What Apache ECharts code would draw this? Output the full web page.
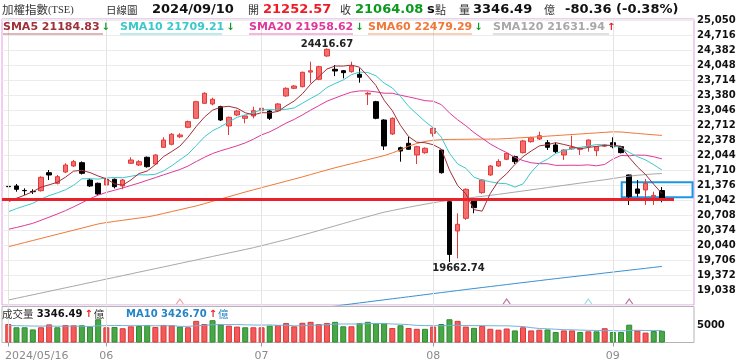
<!DOCTYPE html>
<html><head><meta charset="utf-8">
<script src="https://cdn.jsdelivr.net/npm/echarts@6/dist/echarts.min.js"></script>
<style>html,body{margin:0;padding:0;background:#fff}#c{width:740px;height:363px}</style>
</head><body><div id="c"></div>
<script>
// ---------- data ----------
const tickIdx = [0, 12, 31, 52, 74];
const tickLabels = ['2024/05/16', '06', '07', '08', '09'];
const lastDate = '2024/09/10';

const opens = [21345, 21354, 21255, 21232, 21249, 21650, 21414, 21665, 21799, 21873,
 21487, 21414, 21376, 21503, 21354, 21859, 21821, 21993, 21844, 22215,
 22282, 22450, 22661, 22861, 23195, 23180, 23120, 22690, 22935, 22861,
 22912, 23030, 23024, 23030, 23358, 23529, 23565, 23890, 23730, 24248,
 23952, 23921, 23899, 23841, 23400, 23231, 22823, 22512, 22206, 22304,
 22044, 22095, 22527, 22155, 21004, 20352, 20634, 21042, 21205, 21599,
 21800, 21948, 22007, 22096, 22340, 22400, 22319, 22267, 22044, 22180,
 22170, 22229, 22140, 22240, 22319, 22229, 21599, 21287, 21265, 21110,
 21252.57];
const closes = [21338, 21280, 21249, 21227, 21547, 21599, 21561, 21821, 21895, 21636,
 21354, 21176, 21503, 21338, 21487, 21933, 21895, 21784, 22044, 22378,
 22505, 22490, 22787, 23231, 23418, 23284, 22823, 22883, 23024, 22913,
 23030, 23084, 22861, 23180, 23529, 23580, 23885, 23920, 24010, 24397,
 23914, 23877, 24025, 23774, 23418, 22861, 22244, 22861, 22133, 22171,
 22229, 22193, 22638, 21650, 19830, 20501, 21280, 20871, 21487, 21799,
 21900, 22081, 21895, 22356, 22430, 22474, 22215, 22118, 22155, 22215,
 22200, 22378, 22229, 22268, 22229, 22096, 21116, 21191, 21414, 21144.44,
 21064.08];
const lows = [21265, 21227, 21153, 21176, 21230, 21487, 21390, 21640, 21780, 21610,
 21330, 21150, 21360, 21300, 21280, 21844, 21800, 21760, 21830, 22200,
 22260, 22420, 22640, 22850, 23180, 23150, 22800, 22489, 22910, 22750,
 22861, 23010, 22823, 23010, 23340, 23510, 23550, 23640, 23710, 24230,
 23800, 23750, 23877, 23654, 23157, 22840, 22155, 22490, 21895, 22155,
 21844, 22070, 22452, 21630, 19662.74, 19744, 20600, 20746, 21180, 21580,
 21780, 21930, 21844, 22080, 22320, 22380, 22155, 22081, 21933, 22160,
 22044, 22118, 22020, 22220, 22193, 22080, 20931, 21116, 20931, 20931,
 20990];
const highs = [21503, 21398, 21302, 21280, 21570, 21710, 21600, 21860, 21933, 21900,
 21520, 21430, 21540, 21520, 21510, 21993, 21930, 22010, 22060, 22438,
 22530, 22530, 22810, 23250, 23440, 23320, 23140, 22900, 23050, 22935,
 23120, 23180, 23040, 23200, 23550, 23600, 23900, 24121, 24030, 24416.67,
 24048, 23937, 24121, 23975, 23453, 23250, 22840, 22880, 22230, 22452,
 22250, 22215, 22660, 22170, 21020, 20746, 21300, 21060, 21500, 21820,
 21950, 22100, 22030, 22380, 22450, 22563, 22378, 22319, 22170, 22474,
 22215, 22390, 22245, 22290, 22438, 22240, 21610, 21487, 21509, 21227,
 21330];
const volumes = [5280, 4350, 4350, 3730, 4350, 5170, 4350, 5010, 4920, 4920,
 4550, 6640, 4350, 4440, 4080, 4620, 4710, 5010, 4440, 5010,
 4920, 4540, 4350, 6180, 5280, 6370, 5190, 4820, 4540, 4350,
 4350, 4350, 4820, 4990, 5550, 4630, 5640, 5910, 5280, 5550,
 5910, 4630, 4630, 5550, 5910, 5550, 5550, 4150, 4920, 4150,
 3910, 3910, 4550, 5280, 6640, 6180, 4550, 4190, 4730, 3920,
 3650, 4000, 3450, 4350, 3450, 3650, 3730, 2990, 3450, 3450,
 2990, 3190, 3190, 4080, 2990, 2990, 5090, 3450, 2830, 3260,
 3346.49];
const sma5 = [21004, 21080, 21150, 21227, 21328, 21380, 21437, 21551, 21685, 21702,
 21653, 21576, 21513, 21401, 21372, 21487, 21631, 21687, 21829, 22007,
 22121, 22240, 22441, 22678, 22886, 23042, 23109, 23128, 23086, 22985,
 22935, 22987, 22982, 23014, 23137, 23247, 23407, 23619, 23785, 23958,
 24025, 24024, 24045, 23997, 23802, 23591, 23264, 23032, 22703, 22454,
 22328, 22317, 22273, 22176, 21708, 21362, 21180, 20826, 20794, 21188,
 21467, 21628, 21832, 22006, 22132, 22247, 22274, 22319, 22278, 22235,
 22181, 22213, 22235, 22258, 22261, 22240, 21988, 21780, 21609, 21392,
 21184.83];
const sma10 = [20781, 20850, 20910, 20969, 21060, 21140, 21200, 21270, 21370, 21515,
 21517, 21507, 21532, 21543, 21537, 21570, 21604, 21600, 21615, 21689,
 21804, 21936, 22064, 22253, 22447, 22582, 22674, 22784, 22882, 22936,
 22988, 23048, 23055, 23050, 23061, 23091, 23197, 23301, 23399, 23548,
 23636, 23715, 23832, 23891, 23880, 23808, 23644, 23538, 23350, 23128,
 22959, 22791, 22652, 22440, 22081, 21845, 21749, 21550, 21485, 21448,
 21415, 21404, 21329, 21400, 21660, 21857, 21951, 22076, 22142, 22184,
 22214, 22244, 22277, 22268, 22248, 22210, 22100, 22008, 21934, 21827,
 21709.21];
const sma20 = [20389, 20430, 20475, 20523, 20590, 20660, 20730, 20805, 20890, 20980,
 21070, 21150, 21210, 21260, 21310, 21365, 21420, 21480, 21540, 21602,
 21661, 21721, 21798, 21898, 21992, 22076, 22139, 22192, 22249, 22313,
 22396, 22492, 22560, 22652, 22754, 22836, 22936, 23042, 23141, 23242,
 23312, 23382, 23443, 23471, 23471, 23449, 23420, 23419, 23375, 23338,
 23298, 23253, 23242, 23165, 22981, 22827, 22696, 22544, 22418, 22288,
 22187, 22097, 21991, 21920, 21871, 21851, 21850, 21813, 21814, 21816,
 21814, 21824, 21803, 21834, 21954, 22034, 22026, 22042, 22038, 22005,
 21958.62];
const sma60 = [20002, 20048, 20094, 20140, 20186, 20232, 20278, 20324, 20370, 20416,
 20462, 20508, 20540, 20565, 20590, 20615, 20640, 20665, 20700, 20742,
 20784, 20826, 20868, 20910, 20960, 21012, 21064, 21116, 21168, 21220,
 21268, 21316, 21364, 21412, 21460, 21508, 21556, 21608, 21660, 21710,
 21760, 21805, 21850, 21895, 21940, 21985, 22030, 22090, 22160, 22240,
 22300, 22345, 22372, 22385, 22390, 22392, 22394, 22396, 22397, 22398,
 22400, 22410, 22420, 22430, 22440, 22452, 22464, 22476, 22488, 22500,
 22512, 22524, 22536, 22548, 22560, 22556, 22540, 22524, 22508, 22494,
 22479.29];
const sma120 = [18815, 18854, 18893, 18931, 18970, 19009, 19048, 19087, 19125, 19164,
 19203, 19242, 19281, 19319, 19358, 19397, 19436, 19475, 19513, 19552,
 19591, 19630, 19669, 19707, 19746, 19785, 19824, 19863, 19901, 19940,
 19980, 20025, 20070, 20115, 20160, 20210, 20260, 20310, 20362, 20414,
 20466, 20518, 20570, 20622, 20672, 20722, 20770, 20808, 20845, 20880,
 20915, 20948, 20980, 21010, 21035, 21058, 21080, 21102, 21124, 21146,
 21168, 21193, 21218, 21243, 21268, 21293, 21318, 21343, 21368, 21393,
 21418, 21443, 21468, 21493, 21520, 21548, 21572, 21592, 21608, 21622,
 21631.94];
const sma240 = [null, null, null, null, null, null, null, null, null, null,
 null, null, null, null, null, null, null, null, null, null,
 null, null, null, null, null, null, null, null, null, null,
 null, null, null, null, null, 18560, 18584, 18608, 18632, 18656,
 18680, 18704, 18727, 18750, 18773, 18796, 18819, 18842, 18865, 18888,
 18911, 18934, 18957, 18980, 19003, 19026, 19049, 19071, 19093, 19115,
 19137, 19159, 19181, 19203, 19225, 19247, 19269, 19290, 19311, 19332,
 19353, 19374, 19395, 19416, 19437, 19458, 19479, 19500, 19521, 19542,
 19563];
const volMa10 = [4850, 4800, 4760, 4700, 4680, 4700, 4650, 4680, 4700, 4643,
 4570, 4799, 4799, 4870, 4843, 4788, 4824, 4824, 4776, 4785,
 4822, 4612, 4612, 4786, 4906, 5081, 5129, 5110, 5120, 5054,
 4997, 4978, 5025, 4906, 4933, 4759, 4804, 4913, 4987, 5107,
 5263, 5291, 5272, 5328, 5364, 5456, 5447, 5271, 5235, 5095,
 4895, 4823, 4815, 4788, 4861, 4924, 4824, 4828, 4809, 4786,
 4760, 4769, 4659, 4566, 4247, 3994, 3912, 3792, 3664, 3617,
 3551, 3470, 3444, 3417, 3371, 3305, 3441, 3487, 3425, 3406,
 3426.70];
// cross signals (day index) and their colours
const signalIdx = [21, 61, 71, 76];
const signalColors = ['#f08a8a', '#a8508a', '#7fd6e0', '#a8508a'];
// highlight box (price range) and its day span
const boxDays = [75.08, 83.75];
const boxRange = [21102, 21436];
const lastLineEnd = 81.48;

// ---------- layout / style ----------
const X_MIN = -0.771, X_MAX = 83.93;
const Y_MIN = 18704, Y_MAX = 25072, Y_STEP = 334;
const FB = '"DejaVu Sans"';
const CJK = '"Noto Sans CJK TC"';
const RED = '#ee1c25', GREEN = '#0a9a1e';
const C5 = '#a0303a', C10 = '#3cc8cc', C20 = '#e0389c', C60 = '#f07838', C120 = '#a8a8a8';

const N = closes.length;
const pair = arr => arr.map((v, i) => [i, v]);
const candleData = closes.map((c, i) => [i, opens[i], c, lows[i], highs[i]]);
const volData = volumes.map((v, i) => {
  const up = i === 0 ? true : closes[i] >= closes[i - 1];
  return { value: [i, v], itemStyle: { color: up ? '#f55a5a' : '#48a848', borderColor: up ? '#d83838' : '#2e8a2e', borderWidth: 1 } };
});
const hiIdx = highs.indexOf(Math.max(...highs));
const loIdx = lows.indexOf(Math.min(...lows));
const last = N - 1;
const lastClose = closes[last];
const chg = closes[last] - closes[last - 1];
const chgPct = chg / closes[last - 1] * 100;

const monthLine = {
  silent: true, symbol: ['none', 'none'], label: { show: false },
  lineStyle: { color: '#e4e4e4', width: 1, type: 'solid' },
  data: tickIdx.map(i => ({ xAxis: i }))
};

function t(x, y, text, fill, font) {
  return { type: 'text', x, y, silent: true, style: { text, fill, font, verticalAlign: 'middle' } };
}
const graphics = [];
// title row
const TY = 10;
graphics.push(t(2, TY, '加權指數', '#333', `11.5px ${CJK}`));
graphics.push(t(48, TY, '(TSE)', '#333', '10.5px "Liberation Serif"'));
graphics.push(t(106, TY, '日線圖', '#333', `10.5px ${CJK}`));
graphics.push(t(152, TY, lastDate, '#111', `bold 13px ${FB}`));
graphics.push(t(248, TY, '開', '#333', `11px ${CJK}`));
graphics.push(t(263, TY, opens[last].toFixed(2), RED, `bold 13px ${FB}`));
graphics.push(t(340, TY, '收', '#333', `11px ${CJK}`));
graphics.push(t(355, TY, closes[last].toFixed(2), GREEN, `bold 13px ${FB}`));
graphics.push(t(427, TY, 's', '#111', `bold 13px ${FB}`));
graphics.push(t(435, TY, '點', '#333', `11px ${CJK}`));
graphics.push(t(459, TY, '量', '#333', `11px ${CJK}`));
graphics.push(t(473, TY, volumes[last].toFixed(2), '#111', `bold 13px ${FB}`));
graphics.push(t(544, TY, '億', '#333', `11px ${CJK}`));
graphics.push(t(565, TY, `${chg.toFixed(2)} (${chgPct.toFixed(2)}%)`, '#111', `bold 13px ${FB}`));

// SMA legend row
const legendItems = [
  { name: 'SMA5', arr: sma5, color: C5, x: 3, w: 100 },
  { name: 'SMA10', arr: sma10, color: C10, x: 120, w: 102 },
  { name: 'SMA20', arr: sma20, color: C20, x: 249, w: 104 },
  { name: 'SMA60', arr: sma60, color: C60, x: 368, w: 104 },
  { name: 'SMA120', arr: sma120, color: C120, x: 493, w: 116 }
];
legendItems.forEach(it => {
  const v = it.arr[last], p = it.arr[last - 1];
  const up = v >= p;
  graphics.push({
    type: 'text', x: it.x, y: 27, silent: true, z: 10,
    style: {
      text: `{n|${it.name} ${v.toFixed(2)}}{a|${up ? '↑' : '↓'}}`,
      verticalAlign: 'middle',
      rich: {
        n: { fill: it.color, font: `bold 11px ${FB}` },
        a: { fill: up ? RED : GREEN, font: `bold 10px ${FB}`, padding: [0, 0, 0, 2] }
      }
    }
  });
  graphics.push({ type: 'line', silent: true, z: 10, shape: { x1: it.x, y1: 34, x2: it.x + it.w, y2: 34 }, style: { stroke: it.color, lineWidth: 1, opacity: 0.7 } });
});

// volume legend row
const vUp = volumes[last] >= volumes[last - 1];
const mUp = volMa10[last] >= volMa10[last - 1];
graphics.push({
  type: 'text', x: 2, y: 314, silent: true, z: 10,
  style: {
    text: `{c|成交量} {v|${volumes[last].toFixed(2)}}{a|${vUp ? '↑' : '↓'}}{c|億}`,
    verticalAlign: 'middle',
    rich: {
      c: { fill: '#333', font: `10.5px ${CJK}` },
      v: { fill: '#111', font: `bold 10px ${FB}` },
      a: { fill: vUp ? RED : GREEN, font: `bold 10px ${FB}`, padding: [0, 1, 0, 2] }
    }
  }
});
graphics.push({
  type: 'text', x: 126, y: 314, silent: true, z: 10,
  style: {
    text: `{m|MA10 ${volMa10[last].toFixed(2)}}{a|${mUp ? '↑' : '↓'}}{c|億}`,
    verticalAlign: 'middle',
    rich: {
      m: { fill: '#2484c6', font: `bold 10px ${FB}` },
      a: { fill: mUp ? RED : GREEN, font: `bold 10px ${FB}`, padding: [0, 1, 0, 2] },
      c: { fill: '#2484c6', font: `10.5px ${CJK}` }
    }
  }
});

const lineS = (name, arr, color, extra) => Object.assign({
  name, type: 'line', xAxisIndex: 0, yAxisIndex: 0, data: pair(arr), showSymbol: false,
  symbol: 'none', silent: true, z: 4, lineStyle: { color, width: 1 }, connectNulls: false
}, extra || {});

const option = {
  animation: false,
  backgroundColor: '#fff',
  textStyle: { fontFamily: 'DejaVu Sans' },
  grid: [
    { left: 2, top: 19, width: 692, height: 286, show: true, borderColor: '#e39be3', borderWidth: 1, backgroundColor: 'transparent' },
    { left: 2, top: 306.5, width: 692, height: 36, show: true, borderColor: '#b4b4b4', borderWidth: 1, backgroundColor: 'transparent' }
  ],
  xAxis: [
    { type: 'value', gridIndex: 0, min: X_MIN, max: X_MAX, axisLine: { show: false }, axisTick: { show: false }, axisLabel: { show: false }, splitLine: { show: false } },
    { type: 'value', gridIndex: 1, min: X_MIN, max: X_MAX, axisLine: { show: false },
      axisTick: { show: true, customValues: tickIdx, length: 4, lineStyle: { color: '#999' } },
      axisLabel: {
        show: true, customValues: tickIdx, margin: 8, color: '#8a8a8a', fontSize: 11, fontFamily: 'DejaVu Sans',
        formatter: v => { const k = tickIdx.indexOf(Math.round(v)); if (k < 0) return ''; return k === 0 ? `{f|${tickLabels[k]}}` : tickLabels[k]; },
        rich: { f: { padding: [0, 0, 0, 57], color: '#8a8a8a', fontSize: 11, fontFamily: 'DejaVu Sans' } }
      },
      splitLine: { show: false } }
  ],
  yAxis: [
    { type: 'value', gridIndex: 0, position: 'right', min: Y_MIN, max: Y_MAX, interval: Y_STEP,
      axisLine: { show: false }, axisTick: { show: false },
      axisLabel: { showMinLabel: false, showMaxLabel: false, color: '#111', fontWeight: 'bold', fontSize: 10, fontFamily: 'DejaVu Sans', margin: 3 },
      splitLine: { lineStyle: { color: '#ececec', width: 1 } } },
    { type: 'value', gridIndex: 1, position: 'right', min: 0, max: 10285, interval: 5000,
      axisLine: { show: false }, axisTick: { show: false }, splitLine: { show: false },
      axisLabel: { formatter: v => v === 5000 ? '5000' : '', color: '#111', fontWeight: 'bold', fontSize: 10, fontFamily: 'DejaVu Sans', margin: 3 } }
  ],
  graphic: graphics,
  series: [
    { type: 'line', xAxisIndex: 0, yAxisIndex: 0, data: [], silent: true, z: 1, markLine: monthLine },
    { type: 'line', xAxisIndex: 1, yAxisIndex: 1, data: [], silent: true, z: 1, markLine: monthLine },
    {
      type: 'candlestick', xAxisIndex: 0, yAxisIndex: 0, data: candleData, barWidth: 5, z: 3, silent: true,
      itemStyle: { color: '#f56e6e', color0: '#000', borderColor: '#e23a3a', borderColor0: '#000', borderWidth: 1 },
      markLine: {
        silent: true, symbol: ['none', 'none'], label: { show: false }, z: 6,
        lineStyle: { color: '#e8212b', width: 3, type: 'solid' },
        data: [[{ coord: [X_MIN, lastClose] }, { coord: [lastLineEnd, lastClose] }]]
      },
      markArea: {
        silent: true,
        itemStyle: { color: 'rgba(0,0,0,0)', borderColor: '#1e96e6', borderWidth: 2 },
        data: [[{ coord: [boxDays[0], boxRange[1]] }, { coord: [boxDays[1], boxRange[0]] }]]
      },
      markPoint: {
        silent: true, symbol: 'circle', symbolSize: 0,
        label: { show: true, position: 'inside', color: '#222', fontWeight: 'bold', fontSize: 10, fontFamily: 'DejaVu Sans', formatter: p => Number(p.value).toFixed(2) },
        data: [
          { coord: [hiIdx, highs[hiIdx]], value: highs[hiIdx], label: { offset: [0, -4] } },
          { coord: [loIdx, lows[loIdx]], value: lows[loIdx], label: { offset: [9, 6] } }
        ]
      }
    },
    lineS('SMA120', sma120, C120),
    lineS('SMA60', sma60, C60),
    lineS('SMA20', sma20, C20),
    lineS('SMA10', sma10, C10),
    lineS('SMA5', sma5, C5),
    lineS('SMA240', sma240, '#3a90d0'),
    {
      type: 'scatter', xAxisIndex: 0, yAxisIndex: 0, silent: true, clip: false, z: 5,
      symbol: 'path://M0,10 L5,0 L10,10', symbolSize: [7, 5], symbolOffset: [0, -3.5],
      data: signalIdx.map((d, k) => ({ value: [d, Y_MIN], itemStyle: { color: 'rgba(0,0,0,0)', borderColor: signalColors[k], borderWidth: 1 } }))
    },
    { type: 'bar', xAxisIndex: 1, yAxisIndex: 1, data: volData, barWidth: 6, silent: true, z: 3 },
    { type: 'line', xAxisIndex: 1, yAxisIndex: 1, data: pair(volMa10), showSymbol: false, symbol: 'none', silent: true, z: 4, lineStyle: { color: '#6fb2dc', width: 1 } }
  ]
};
const chart = echarts.init(document.getElementById('c'), null, { renderer: 'canvas' });
chart.setOption(option);
</script>
</body></html>
